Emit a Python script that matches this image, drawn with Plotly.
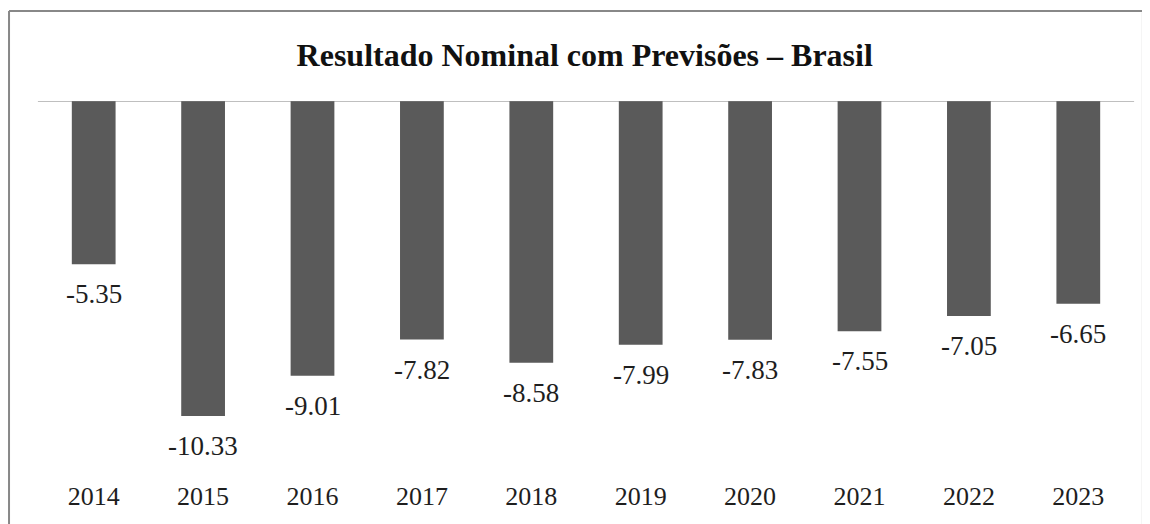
import plotly.graph_objects as go

years = ["2014", "2015", "2016", "2017", "2018", "2019", "2020", "2021", "2022", "2023"]
values = [-5.35, -10.33, -9.01, -7.82, -8.58, -7.99, -7.83, -7.55, -7.05, -6.65]
labels = ["-5.35", "-10.33", "-9.01", "-7.82", "-8.58", "-7.99", "-7.83", "-7.55", "-7.05", "-6.65"]

FONT = "Liberation Serif, Times New Roman, serif"

fig = go.Figure()
fig.add_trace(go.Bar(
    x=years, y=values,
    marker=dict(color="#5a5a5a", line=dict(width=0)),
    hoverinfo="skip",
))

for i, (v, lab) in enumerate(zip(values, labels)):
    fig.add_annotation(x=i, y=v, text=lab, showarrow=False, yshift=-30,
                       yanchor="middle", font=dict(family=FONT, size=27, color="#1e1e1e"))

# zero line
fig.add_shape(type="line", xref="paper", yref="y", x0=-0.001, x1=1.001, y0=0, y1=0,
              line=dict(color="#808080", width=1.2))
# outer frame: top and left edges, faint right edge
fig.add_shape(type="line", xref="paper", yref="paper", x0=-0.0274, x1=1.05, y0=1.2387, y1=1.2387,
              line=dict(color="#888888", width=2))
fig.add_shape(type="line", xref="paper", yref="paper", x0=-0.0274, x1=-0.0274, y0=-0.3, y1=1.2387,
              line=dict(color="#888888", width=2))
fig.add_shape(type="line", xref="paper", yref="paper", x0=1.0082, x1=1.0082, y0=-0.3, y1=1.235,
              line=dict(color="#ececec", width=1))

fig.update_layout(
    width=1142, height=516,
    margin=dict(l=31, r=17, t=93, b=46),
    paper_bgcolor="white", plot_bgcolor="white",
    bargap=0.6,
    showlegend=False,
    title=dict(text="<b>Resultado Nominal com Previsões – Brasil</b>",
               x=0.505, xanchor="center", y=1 - 47 / 516, yanchor="middle",
               font=dict(family=FONT, size=32, color="#111111")),
    xaxis=dict(type="category", range=[-0.5, 9.5], showgrid=False, showline=False, ticks="",
               tickfont=dict(family=FONT, size=26, color="#1e1e1e")),
    yaxis=dict(range=[-12.36, 0], visible=False, showgrid=False, zeroline=False),
)

fig.write_html("out.html")
